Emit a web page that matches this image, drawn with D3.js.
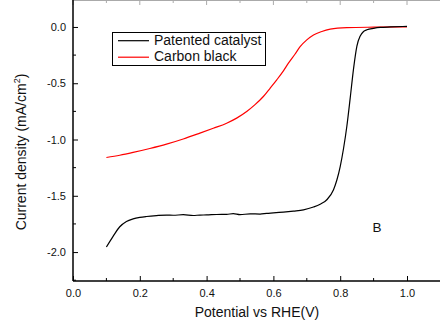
<!DOCTYPE html>
<html>
<head>
<meta charset="utf-8">
<script src="https://cdn.jsdelivr.net/npm/d3@7"></script>
<style>
  html, body { margin: 0; padding: 0; background: #fff; }
  svg { display: block; }
  text { font-family: "Liberation Sans", Arial, sans-serif; fill: #111; }
</style>
</head>
<body>
<svg id="chart" width="440" height="320"></svg>
<script>
// ---- data ----
const catalystPotential = [0.10,0.12,0.14,0.16,0.18,0.20,0.22,0.25,0.28,0.30,0.33,0.36,0.38,0.40,0.43,0.46,0.48,0.50,0.53,0.56,0.58,0.60,0.63,0.66,0.69,0.72,0.74,0.76,0.78,0.79,0.80,0.81,0.82,0.83,0.84,0.85,0.86,0.87,0.88,0.90,0.92,0.95,1.00];
const catalystCurrent   = [-1.955,-1.86,-1.775,-1.728,-1.705,-1.692,-1.684,-1.676,-1.671,-1.673,-1.668,-1.675,-1.671,-1.670,-1.666,-1.665,-1.659,-1.668,-1.660,-1.662,-1.656,-1.652,-1.645,-1.636,-1.625,-1.600,-1.575,-1.535,-1.446,-1.36,-1.24,-1.08,-0.88,-0.63,-0.37,-0.17,-0.08,-0.04,-0.025,-0.012,-0.004,0.0,0.005];
const carbonPotential = [0.10,0.14,0.18,0.23,0.28,0.33,0.38,0.42,0.46,0.49,0.52,0.545,0.57,0.59,0.61,0.63,0.645,0.665,0.68,0.70,0.72,0.745,0.77,0.82,0.90,1.00];
const carbonCurrent   = [-1.16,-1.14,-1.115,-1.08,-1.041,-0.995,-0.943,-0.90,-0.855,-0.81,-0.751,-0.69,-0.618,-0.545,-0.47,-0.39,-0.322,-0.24,-0.175,-0.115,-0.071,-0.04,-0.02,-0.006,-0.002,0.0];
const xTickValues = [0.0,0.2,0.4,0.6,0.8,1.0];
const yTickValues = [0.0,-0.5,-1.0,-1.5,-2.0];
const seriesNames = ["Patented catalyst","Carbon black"];
const seriesColors = ["#000000","#ff0000"];

// ---- layout ----
const svg = d3.select("#chart");
const x = d3.scaleLinear().domain([0, 1.1]).range([73, 440.4]);
const y = d3.scaleLinear().domain([-2.257, 0.2395]).range([281, 0]);
const fmt = d => d.toFixed(1).replace("\u2212", "-");

// top frame (gray)
svg.append("line").attr("x1", 73).attr("x2", 440).attr("y1", 0.5).attr("y2", 0.5)
  .attr("stroke", "#aaa").attr("stroke-width", 1);
const xMinor = d3.range(0.1, 1.1, 0.2);
svg.selectAll(".topTick").data(xTickValues.concat(xMinor)).enter().append("line")
  .attr("x1", d => x(d)).attr("x2", d => x(d)).attr("y1", 0).attr("y2", (d, i) => i < xTickValues.length ? 5 : 3)
  .attr("stroke", "#aaa").attr("stroke-width", 1);

// curves
const line = d3.line().x(d => x(d[0])).y(d => y(d[1])).curve(d3.curveMonotoneX);
const catalyst = catalystPotential.map((p, i) => [p, catalystCurrent[i]]);
const carbon = carbonPotential.map((p, i) => [p, carbonCurrent[i]]);
svg.append("path").datum(carbon).attr("d", line).attr("fill", "none")
  .attr("stroke", seriesColors[1]).attr("stroke-width", 1.2);
svg.append("path").datum(catalyst).attr("d", line).attr("fill", "none")
  .attr("stroke", seriesColors[0]).attr("stroke-width", 1.2);

// x axis (ticks inward)
const gx = svg.append("g").attr("transform", "translate(0,281)");
gx.call(d3.axisBottom(x).tickValues(xTickValues).tickSizeInner(-5).tickSizeOuter(0).tickPadding(10).tickFormat(fmt));
gx.selectAll(".minor").data(xMinor).enter().append("line").attr("class", "minor")
  .attr("x1", d => x(d)).attr("x2", d => x(d)).attr("y1", 0).attr("y2", -3).attr("stroke", "#000");
gx.select(".domain").attr("stroke-width", 1.5).attr("d", "M73,0H440");
gx.selectAll("text").attr("font-size", 11).attr("font-family", "Liberation Sans, Arial, sans-serif").attr("fill", "#111").attr("dy", "0.71em").attr("y", 8);

// y axis (ticks inward)
const gy = svg.append("g").attr("transform", "translate(73,0)");
gy.call(d3.axisLeft(y).tickValues(yTickValues).tickSizeInner(-5).tickSizeOuter(0).tickPadding(12).tickFormat(fmt));
const yMinor = [-0.25, -0.75, -1.25, -1.75, -2.25];
gy.selectAll(".minor").data(yMinor).enter().append("line").attr("class", "minor")
  .attr("x1", 0).attr("x2", 3).attr("y1", d => y(d)).attr("y2", d => y(d)).attr("stroke", "#000");
gy.select(".domain").attr("stroke-width", 1.5).attr("d", "M0,0V281");
gy.selectAll("text").attr("font-size", 11).attr("font-family", "Liberation Sans, Arial, sans-serif").attr("fill", "#111").attr("x", -7);

// axis titles
svg.append("text").attr("x", 257).attr("y", 317).attr("text-anchor", "middle")
  .attr("font-size", 14).text("Potential vs RHE(V)");
const yt = svg.append("text").attr("transform", "translate(26,152) rotate(-90)")
  .attr("text-anchor", "middle").attr("font-size", 14);
yt.append("tspan").text("Current density (mA/cm");
yt.append("tspan").attr("font-size", 9).attr("dy", -6).text("2");
yt.append("tspan").attr("dy", 6).text(")");

// legend
svg.append("rect").attr("x", 112.5).attr("y", 32.5).attr("width", 153).attr("height", 33)
  .attr("fill", "#fff").attr("stroke", "#000").attr("stroke-width", 1);
const leg = svg.selectAll(".leg").data(seriesNames).enter().append("g")
  .attr("transform", (d, i) => `translate(0,${40.7 + i * 16.5})`);
leg.append("line").attr("x1", 118).attr("x2", 149).attr("y1", 0).attr("y2", 0)
  .attr("stroke", (d, i) => seriesColors[i]).attr("stroke-width", 1.2);
leg.append("text").attr("x", 154).attr("y", 4).attr("font-size", 14).text(d => d);

// panel label
svg.append("text").attr("x", 372.5).attr("y", 232).attr("font-size", 13.5).text("B");
</script>
</body>
</html>
